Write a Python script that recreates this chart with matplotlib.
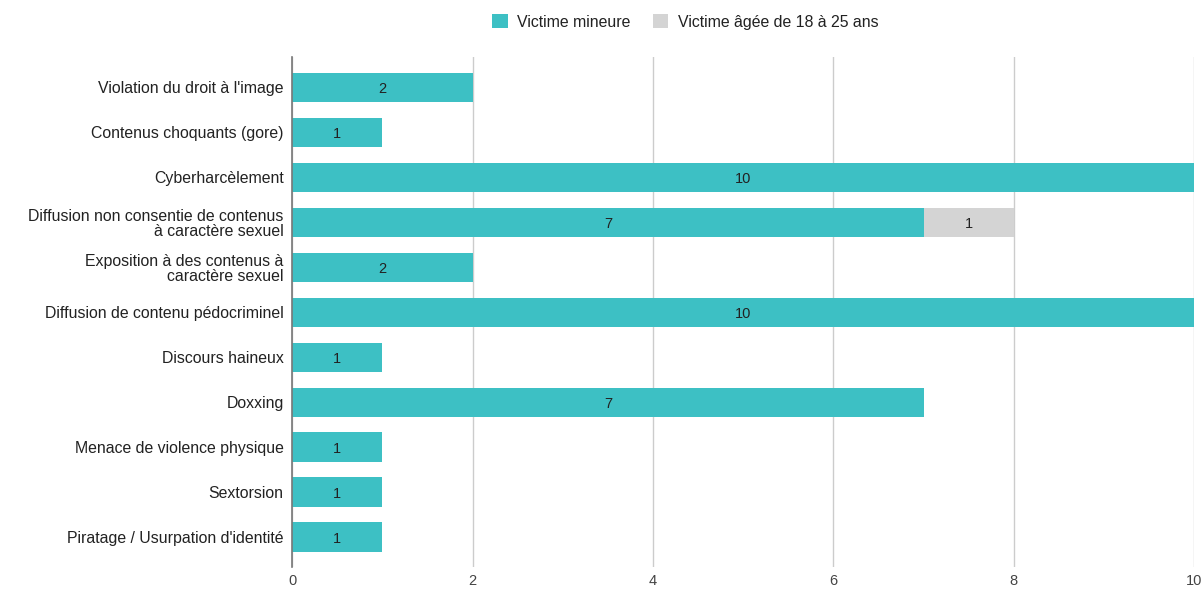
import matplotlib
matplotlib.use('Agg')
import matplotlib.pyplot as plt
import numpy as np

plt.rcParams['font.family'] = ['Liberation Sans', 'DejaVu Sans']

categories = ["Violation du droit à l'image", "Contenus choquants (gore)", "Cyberharcèlement",
              "Diffusion non consentie de contenus\nà caractère sexuel",
              "Exposition à des contenus à\ncaractère sexuel", "Diffusion de contenu pédocriminel",
              "Discours haineux", "Doxxing", "Menace de violence physique", "Sextorsion",
              "Piratage / Usurpation d'identité"]
mineure = [2, 1, 10, 7, 2, 10, 1, 7, 1, 1, 1]
jeune = [0, 0, 0, 1, 0, 0, 0, 0, 0, 0, 0]
series_names = ["Victime mineure", "Victime âgée de 18 à 25 ans"]
xticks = [0, 2, 4, 6, 8, 10]

teal = '#3dc0c4'
grey = '#d4d4d4'

fig = plt.figure(figsize=(12.02, 5.89), dpi=100)
ax = fig.add_axes([0.243, 0.037, 0.7505, 0.866])

y = np.arange(len(categories))
b1 = ax.barh(y, mineure, height=0.65, color=teal, label=series_names[0], zorder=3)
b2 = ax.barh(y, jeune, left=mineure, height=0.65, color=grey, label=series_names[1], zorder=3)

for i in range(len(categories)):
    if mineure[i] > 0:
        ax.text(mineure[i] / 2, i, str(mineure[i]), ha='center', va='center_baseline', fontsize=10.5, color='#222222', zorder=4)
    if jeune[i] > 0:
        ax.text(mineure[i] + jeune[i] / 2, i, str(jeune[i]), ha='center', va='center_baseline', fontsize=10.5, color='#222222', zorder=4)

ax.set_ylim(len(categories) - 1 + 0.67, -0.67)
ax.set_xlim(0, 10)
ax.set_xticks(xticks)
ax.set_yticks(y)
ax.set_yticklabels(categories, fontsize=11.4, color='#222222', linespacing=1.05)
ax.tick_params(axis='x', labelsize=10.5, colors='#444444', length=0, pad=5)
ax.tick_params(axis='y', length=0, pad=6)
ax.grid(axis='x', color='#cccccc', linewidth=1, zorder=0)
for s in ['top', 'right', 'bottom']:
    ax.spines[s].set_visible(False)
ax.spines['left'].set_color('#777777')
ax.spines['left'].set_linewidth(1.2)
ax.spines['left'].set_zorder(5)

fig.legend(handles=[b1, b2], loc='upper center', bbox_to_anchor=(0.57, 1.0), ncol=2, frameon=False,
           fontsize=11.4, handlelength=1.0, handleheight=1.0, handletextpad=0.6, columnspacing=1.4,
           labelcolor='#222222')

plt.savefig('out.png', dpi=100)
